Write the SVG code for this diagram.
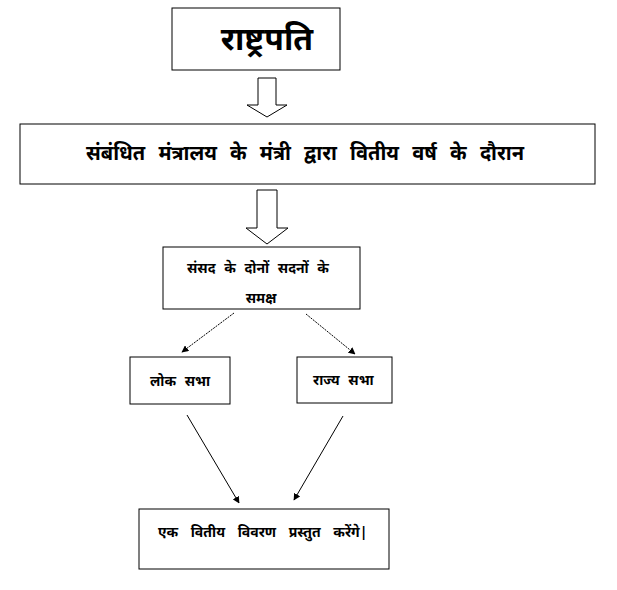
<svg xmlns="http://www.w3.org/2000/svg" width="617" height="590" viewBox="0 0 617 590">
<style>
.b{fill:#fff;stroke:#000;stroke-width:1}
text{font-family:"Noto Sans","Noto Sans Devanagari",sans-serif;font-weight:bold;fill:#000}
.c{stroke:#000;stroke-width:1;fill:none}
</style>
<defs><marker id="a" viewBox="0 0 10 10" refX="9" refY="5" markerWidth="7" markerHeight="7" orient="auto"><path d="M0,0L10,5L0,10z" fill="#000"/></marker></defs>
<rect width="617" height="590" fill="#fff"/>
<g id="n1"><rect class="b" x="172" y="8" width="168" height="62"/><text x="267" y="50" font-size="32" text-anchor="middle">राष्ट्रपति</text></g>
<g id="n2"><rect class="b" x="20" y="124" width="575" height="60"/><text x="305" y="160" font-size="20" word-spacing="8" text-anchor="middle">संबंधित मंत्रालय के मंत्री द्वारा वितीय वर्ष के दौरान</text></g>
<g id="n3"><rect class="b" x="163" y="247" width="197" height="62"/><text x="258" y="273" font-size="14" word-spacing="5" text-anchor="middle">संसद के दोनों सदनों के</text><text x="261" y="303" font-size="14" text-anchor="middle">समक्ष</text></g>
<g id="n4"><rect class="b" x="130" y="357" width="100" height="47"/><text x="150" y="386" font-size="14" word-spacing="5">लोक सभा</text></g>
<g id="n5"><rect class="b" x="297" y="357" width="95" height="46"/><text x="313" y="385" font-size="14" word-spacing="5">राज्य सभा</text></g>
<g id="n6"><rect class="b" x="139" y="509" width="250" height="60"/><text x="158" y="537" font-size="14" word-spacing="9">एक वितीय विवरण प्रस्तुत करेंगे|</text></g>
<g id="connectors">
<path class="b" d="M258,78H276V105H287L267,117L247,105H258Z"/>
<path class="b" d="M257,190H277V228H288L267,244L246,228H257Z"/>
<path class="c" stroke-dasharray="2,1" d="M234,313L182,352" marker-end="url(#a)"/>
<path class="c" stroke-dasharray="2,1" d="M306,314L355,354" marker-end="url(#a)"/>
<path class="c" d="M187,415L239,503" marker-end="url(#a)"/>
<path class="c" d="M343,416L294,500" marker-end="url(#a)"/>
</g>
</svg>
